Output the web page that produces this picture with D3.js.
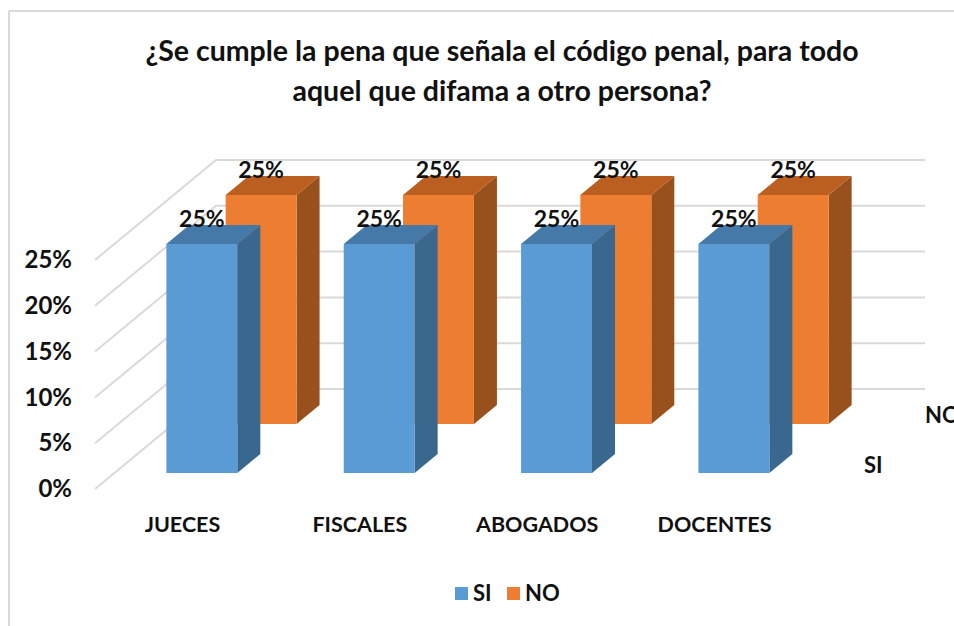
<!DOCTYPE html>
<html>
<head>
<meta charset="utf-8">
<script src="https://cdn.jsdelivr.net/npm/d3@7"></script>
<style>
  body { margin: 0; background: #fff; }
  text { font-family: Lato, "Open Sans", sans-serif; font-weight: 700; fill: #111; }
</style>
</head>
<body>
<div id="container"></div>
<script>
/* CONSTANTS AND DATA */
const width = 954, height = 626

const titleLines = ["¿Se cumple la pena que señala el código penal, para todo", "aquel que difama a otro persona?"]
const categories = ["JUECES", "FISCALES", "ABOGADOS", "DOCENTES"]
const seriesNames = ["NO", "SI"]
const legendNames = ["SI", "NO"]
const valuesSI = [25, 25, 25, 25]
const valuesNO = [25, 25, 25, 25]
const yTicks = [0, 5, 10, 15, 20, 25]

const svg = d3.select("#container")
  .append("svg")
  .attr("width", width)
  .attr("height", height)

//scales
const xScale = d3.scaleBand()
  .domain(categories)
  .range([147, 750])
  .paddingInner(0.6)

const yScale = d3.scaleLinear()
  .domain([0, 25])
  .range([489, 260])

// depth axis of the 3d box, 0 = front of floor, 1 = back wall
const depthX = d3.scaleLinear().domain([0, 1]).range([0, 121])
const depthY = d3.scaleLinear().domain([0, 1]).range([0, -100])

const seriesDepth = d3.scaleOrdinal().domain(seriesNames).range([0.65, 0.16])
const barDepth = 0.19

const colors = d3.scaleOrdinal().domain(seriesNames).range(["#ED7D31", "#5B9BD5"])
const topColors = d3.scaleOrdinal().domain(seriesNames).range(["#BA5F20", "#457AA8"])
const sideColors = d3.scaleOrdinal().domain(seriesNames).range(["#98501C", "#3A678E"])

const px = (x, d) => x + depthX(d)
const py = (v, d) => yScale(v) + depthY(d)
const poly = pts => pts.map(p => p.join(",")).join(" ")

//chart frame
svg.append("line").attr("x1", 9).attr("x2", 9).attr("y1", 11).attr("y2", height)
  .attr("stroke", "#d9d9d9").attr("stroke-width", 2)
svg.append("line").attr("x1", 9).attr("x2", width).attr("y1", 11).attr("y2", 11)
  .attr("stroke", "#d9d9d9").attr("stroke-width", 2)

//title
svg.append("g").selectAll("text")
  .data(titleLines)
  .join("text")
  .attr("x", 502)
  .attr("y", (d, i) => 61 + i * 40)
  .attr("text-anchor", "middle")
  .attr("font-size", 28.5)
  .text(d => d)

//grid lines, left wall then back wall
const gridLeft = px(95, 0)
const gridBack = px(95, 1)

svg.append("g").selectAll("polyline")
  .data(yTicks)
  .join("polyline")
  .attr("points", d => poly([[gridLeft, py(d, 0)], [gridBack, py(d, 1)], [925, py(d, 1)]]))
  .attr("fill", "none")
  .attr("stroke", "#d9d9d9")
  .attr("stroke-width", 2)

//y-axis
const yAxis = d3.axisLeft(yScale)
  .tickValues(yTicks)
  .tickSize(0)
  .tickFormat(d => d + "%")

svg.append("g")
  .attr("class", "y-axis")
  .attr("transform", "translate(75, 0)")
  .call(yAxis)
  .call(g => g.select(".domain").remove())
  .call(g => g.selectAll("text").attr("font-size", 24).attr("font-family", null))

//x-axis
const xAxis = d3.axisBottom(xScale).tickSize(0)

svg.append("g")
  .attr("class", "x-axis")
  .attr("transform", "translate(0, 514)")
  .call(xAxis)
  .call(g => g.select(".domain").remove())
  .call(g => g.selectAll("text").attr("font-size", 21.5).attr("font-family", null))

//bars, back series first
const series = [
  { name: "NO", values: valuesNO },
  { name: "SI", values: valuesSI }
]

series.forEach(s => {
  const d0 = seriesDepth(s.name)
  const d1 = d0 + barDepth
  const bars = svg.append("g").attr("class", "bars-" + s.name)
    .selectAll("g")
    .data(categories.map((c, i) => ({ category: c, value: s.values[i] })))
    .join("g")

  const left = d => xScale(d.category)
  const right = d => xScale(d.category) + xScale.bandwidth()

  // side face
  bars.append("polygon")
    .attr("fill", sideColors(s.name))
    .attr("points", d => poly([
      [px(right(d), d0), py(0, d0)], [px(right(d), d1), py(0, d1)],
      [px(right(d), d1), py(d.value, d1)], [px(right(d), d0), py(d.value, d0)]
    ]))

  // top face
  bars.append("polygon")
    .attr("fill", topColors(s.name))
    .attr("points", d => poly([
      [px(left(d), d0), py(d.value, d0)], [px(right(d), d0), py(d.value, d0)],
      [px(right(d), d1), py(d.value, d1)], [px(left(d), d1), py(d.value, d1)]
    ]))

  // front face
  bars.append("rect")
    .attr("fill", colors(s.name))
    .attr("x", d => px(left(d), d0))
    .attr("y", d => py(d.value, d0))
    .attr("width", xScale.bandwidth())
    .attr("height", d => py(0, d0) - py(d.value, d0))
})

//value labels on top of everything
series.forEach(s => {
  const d0 = seriesDepth(s.name)
  svg.append("g").selectAll("text")
    .data(categories.map((c, i) => ({ category: c, value: s.values[i] })))
    .join("text")
    .attr("x", d => px(xScale(d.category), d0) + xScale.bandwidth() / 2)
    .attr("y", d => py(d.value, d0) - 17)
    .attr("text-anchor", "middle")
    .attr("font-size", 23)
    .text(d => d.value + "%")
})

//series axis labels
svg.append("g").selectAll("text")
  .data(seriesNames)
  .join("text")
  .attr("x", d => d === "NO" ? 925 : 864)
  .attr("y", d => d === "NO" ? 423 : 473)
  .attr("font-size", 22)
  .text(d => d)

//legend
const legend = svg.append("g").selectAll("g")
  .data(legendNames)
  .join("g")
  .attr("transform", (d, i) => `translate(${455 + i * 52}, 587)`)

legend.append("rect")
  .attr("width", 13)
  .attr("height", 13)
  .attr("fill", d => colors(d))

legend.append("text")
  .attr("x", 18)
  .attr("y", 14)
  .attr("font-size", 22)
  .text(d => d)
</script>
</body>
</html>
